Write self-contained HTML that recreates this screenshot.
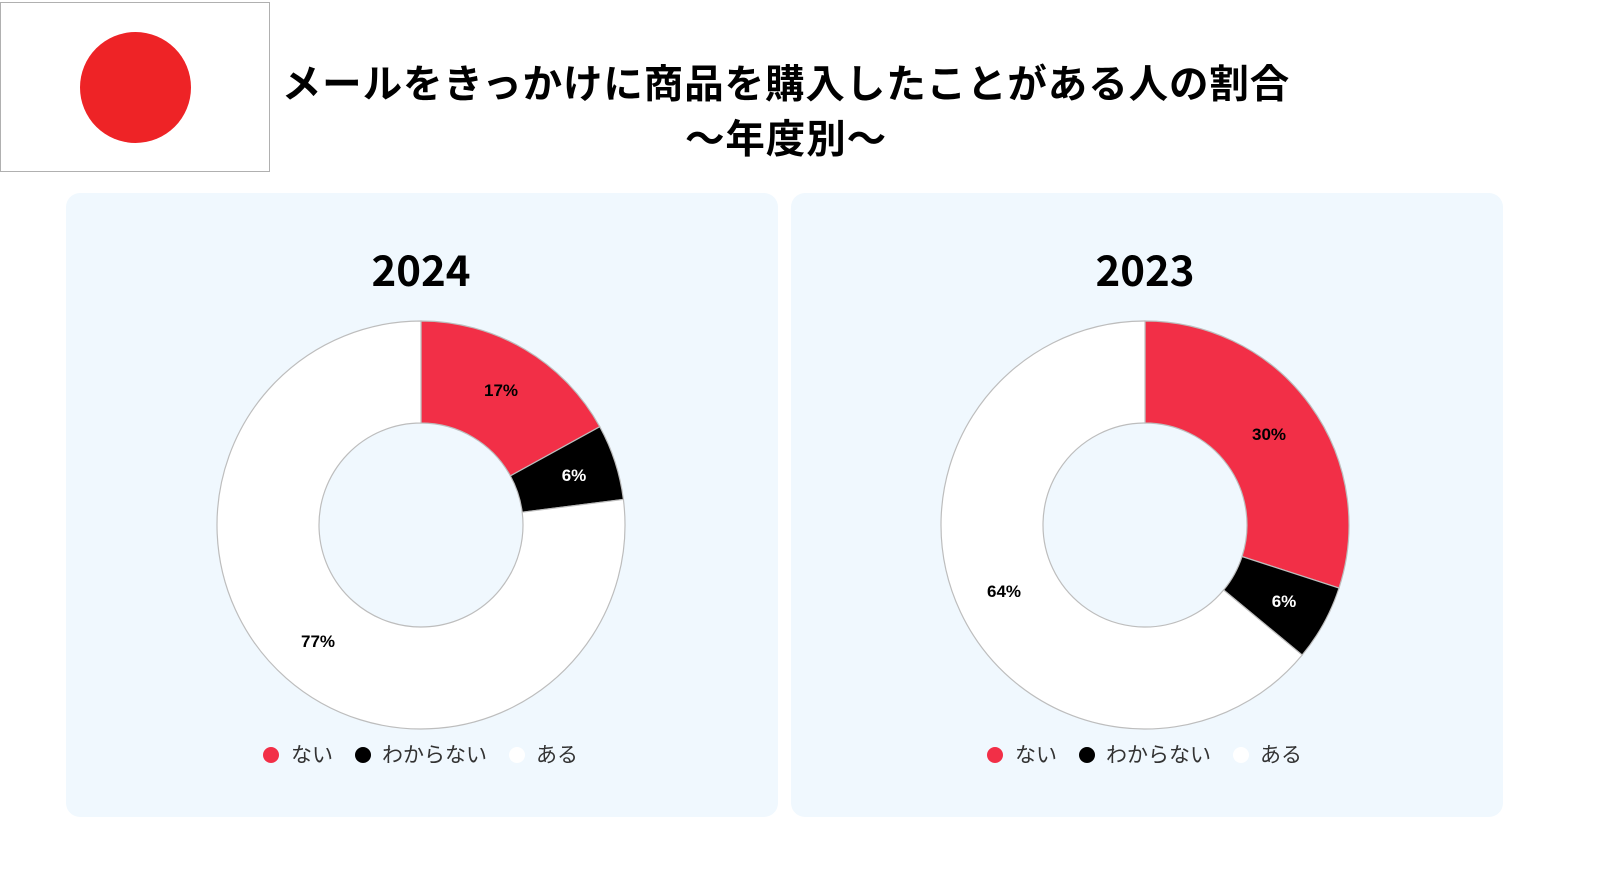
<!DOCTYPE html>
<html><head><meta charset="utf-8"><style>
html,body{margin:0;padding:0;width:1600px;height:886px;background:#fff;overflow:hidden;font-family:"Liberation Sans","Noto Sans CJK JP",sans-serif}
.flag{position:absolute;left:0;top:2px;width:270px;height:170px;border:1px solid #b0b0b0;box-sizing:border-box;background:#fff}
.flag div{position:absolute;left:79px;top:29px;width:111px;height:111px;border-radius:50%;background:#ee2326}
.t{position:absolute;left:0;width:1572px;text-align:center;font-weight:bold;font-size:39.5px;letter-spacing:0.9px;color:#000;font-family:"Noto Sans CJK JP",sans-serif;line-height:1}
.panel{position:absolute;top:193px;width:712px;height:624px;background:#f0f8fe;border-radius:14px}
</style></head><body>
<div class="flag"><div></div></div>
<div class="t" style="top:62px">メールをきっかけに商品を購入したことがある人の割合</div>
<div class="t" style="top:117px">～年度別～</div>
<div class="panel" style="left:66px"></div>
<div class="panel" style="left:791px"></div>
<svg id="s" width="1600" height="886" style="position:absolute;left:0;top:0"></svg>
<script>
var s=document.getElementById('s'),h='';
function pt(cx,cy,r,a){a=a*Math.PI/180;return [cx+r*Math.sin(a),cy-r*Math.cos(a)];}
function seg(cx,cy,a0,a1,fill){var R=204,r=102,l=(a1-a0)>180?1:0;
var p1=pt(cx,cy,R,a0),p2=pt(cx,cy,R,a1),p3=pt(cx,cy,r,a1),p4=pt(cx,cy,r,a0);
return '<path d="M'+p1+' A'+R+','+R+' 0 '+l+' 1 '+p2+' L'+p3+' A'+r+','+r+' 0 '+l+' 0 '+p4+' Z" fill="'+fill+'" stroke="#bdbdbd" stroke-width="1.2"/>';}
function chart(cx,year,v,labels){
h+='<text x="'+cx+'" y="286" text-anchor="middle" font-size="42" font-weight="bold" font-family="Noto Sans CJK JP,sans-serif">'+year+'</text>';
var a=0,cols=['#f22f47','#000','#fff'];
for(var i=0;i<3;i++){var b=a+v[i]*3.6;h+=seg(cx,525,a,b,cols[i]);a=b;}
labels.forEach(function(L){h+='<text x="'+L[0]+'" y="'+L[1]+'" text-anchor="middle" font-size="17" font-weight="bold" fill="'+L[3]+'" font-family="Liberation Sans,sans-serif">'+L[2]+'</text>';});
var o=cx-421;
h+='<circle cx="'+(271+o)+'" cy="755" r="8" fill="#f22f47"/><circle cx="'+(363+o)+'" cy="755" r="8" fill="#000"/><circle cx="'+(517+o)+'" cy="755" r="8" fill="#fff"/>';
var f=' font-size="21" fill="#333" font-family="Noto Sans CJK JP,sans-serif"';
h+='<text x="'+(291+o)+'" y="762"'+f+'>ない</text><text x="'+(382+o)+'" y="762"'+f+'>わからない</text><text x="'+(536+o)+'" y="762"'+f+'>ある</text>';
}
chart(421,'2024',[17,6,77],[[501,396,'17%','#000'],[574,481,'6%','#fff'],[318,647,'77%','#000']]);
chart(1145,'2023',[30,6,64],[[1269,440,'30%','#000'],[1284,607,'6%','#fff'],[1004,597,'64%','#000']]);
s.innerHTML=h;
</script>
</body></html>
